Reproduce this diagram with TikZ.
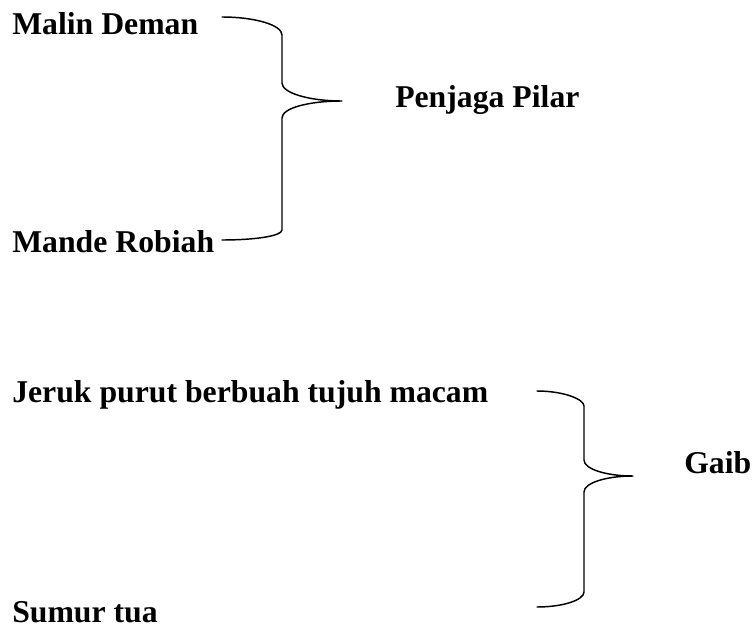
\documentclass[tikz,border=0pt]{standalone}
\usepackage{fontspec}
\setmainfont{Liberation Serif}
\begin{document}
\begin{tikzpicture}[x=0.75pt,y=-0.75pt,
  lbl/.style={anchor=base west,inner sep=0pt,font=\fontsize{23.8}{28}\selectfont\bfseries},
  bracestroke/.style={draw=black,line width=1.1pt,line cap=round,line join=round}]
\useasboundingbox (0,0) rectangle (754,628);

% labels
\node[lbl] (malin) at (12,34) {Malin Deman};
\node[lbl] (mande) at (12,252) {Mande Robiah};
\node[lbl] (penjaga) at (395,107) {Penjaga Pilar};
\node[lbl] (jeruk) at (12,402) {Jeruk purut berbuah tujuh macam};
\node[lbl] (sumur) at (12,622) {Sumur tua};
\node[lbl] (gaib) at (684,473) {Gaib};

% first brace (quarter-ellipse corners)
\coordinate (b1top) at (222,17);
\coordinate (b1tip) at (342,101);
\coordinate (b1bot) at (222,240);
\draw[bracestroke] (b1top) .. controls (255,17) and (282,25) .. (282,35)
  -- (282,83) .. controls (282,93) and (309,101) .. (b1tip)
  .. controls (309,101) and (282,108) .. (282,118)
  -- (282,230) .. controls (282,236) and (255,240) .. (b1bot);

% second brace
\coordinate (b2top) at (537,391);
\coordinate (b2tip) at (633,476);
\coordinate (b2bot) at (537,607);
\draw[bracestroke] (b2top) .. controls (563,391) and (584,399) .. (584,406)
  -- (584,460) .. controls (584,469) and (606,476) .. (b2tip)
  .. controls (606,476) and (584,483) .. (584,492)
  -- (584,592) .. controls (584,600) and (563,607) .. (b2bot);
\end{tikzpicture}
\end{document}
